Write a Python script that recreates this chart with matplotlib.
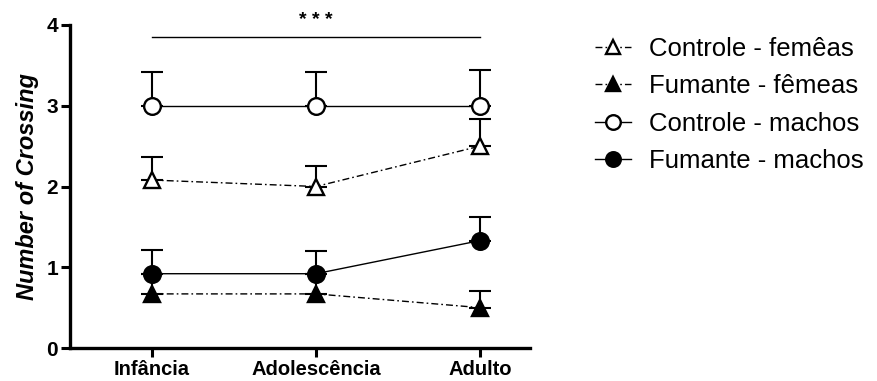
import matplotlib
matplotlib.use("Agg")
import matplotlib.pyplot as plt
from matplotlib.lines import Line2D
import numpy as np

plt.rcParams['font.family'] = ['Liberation Sans', 'DejaVu Sans']

ages = ['Infância', 'Adolescência', 'Adulto']

ctrl_f = [2.08, 2.00, 2.50]
ctrl_f_err = [0.29, 0.25, 0.34]
fum_f = [0.67, 0.67, 0.50]
fum_f_err = [0.25, 0.25, 0.20]
ctrl_m = [3.00, 3.00, 3.00]
ctrl_m_err = [0.42, 0.42, 0.44]
fum_m = [0.92, 0.92, 1.33]
fum_m_err = [0.29, 0.28, 0.29]

labels = ['Controle - femêas', 'Fumante - fêmeas', 'Controle - machos', 'Fumante - machos']

DASHDOT = (0, (5, 2.2, 1.2, 2.2))

series = [
    (ctrl_f, ctrl_f_err, '^', 'white', DASHDOT),
    (fum_f, fum_f_err, '^', 'black', DASHDOT),
    (ctrl_m, ctrl_m_err, 'o', 'white', '-'),
    (fum_m, fum_m_err, 'o', 'black', '-'),
]


def main():
    fig = plt.figure(figsize=(8.78, 3.81), dpi=100)
    ax = fig.add_axes([70 / 878, 1 - 348 / 381, 460 / 878, 323 / 381])
    x = np.arange(len(ages))

    handles = []
    for i, (y, err, mk, fc, ls) in enumerate(series):
        y = np.array(y)
        err = np.array(err)
        # upper error bars only
        ax.errorbar(x, y, yerr=[np.zeros_like(err), err], fmt='none',
                    ecolor='black', elinewidth=1.5, capsize=8, capthick=1.5,
                    zorder=2 + i)
        ax.plot(x, y, color='black', lw=1.0, linestyle=ls, zorder=2 + i)
        ax.plot(x, y, linestyle='none', marker=mk, markersize=12,
                markerfacecolor=fc, markeredgecolor='black', markeredgewidth=1.7,
                zorder=6 + i)
        handles.append(Line2D([], [], color='black', lw=1.0, linestyle=ls, marker=mk,
                              markersize=10.5, markerfacecolor=fc,
                              markeredgecolor='black', markeredgewidth=1.7))

    # significance bar across ages
    ax.plot([0, 2], [3.85, 3.85], color='black', lw=1.0, clip_on=False)
    ax.text(1, 4.05, '* * *', ha='center', va='center', fontsize=14,
            fontweight='bold', clip_on=False)

    ax.set_xlim(-0.5, 2.305)
    ax.set_ylim(0, 4)
    ax.set_yticks([0, 1, 2, 3, 4])
    ax.set_xticks(x)
    ax.set_xticklabels(ages, fontsize=14.5, fontweight='bold')
    for lbl in ax.get_yticklabels():
        lbl.set_fontsize(15)
        lbl.set_fontweight('bold')
    ax.tick_params(axis='both', direction='out', length=6.5, width=2.2, pad=2)
    ax.set_ylabel('Number of Crossing', fontsize=17, fontweight='bold',
                  fontstyle='italic', labelpad=5)

    for side in ('top', 'right'):
        ax.spines[side].set_visible(False)
    for side in ('left', 'bottom'):
        ax.spines[side].set_linewidth(2.4)

    fig.legend(handles, labels, loc='upper left', bbox_to_anchor=(595 / 878, 1 - 37 / 381),
               frameon=False, fontsize=18.5, handlelength=1.4, handletextpad=0.7,
               labelspacing=0.52, borderpad=0, borderaxespad=0)

    fig.savefig('out.png', dpi=100)


if __name__ == '__main__':
    main()
